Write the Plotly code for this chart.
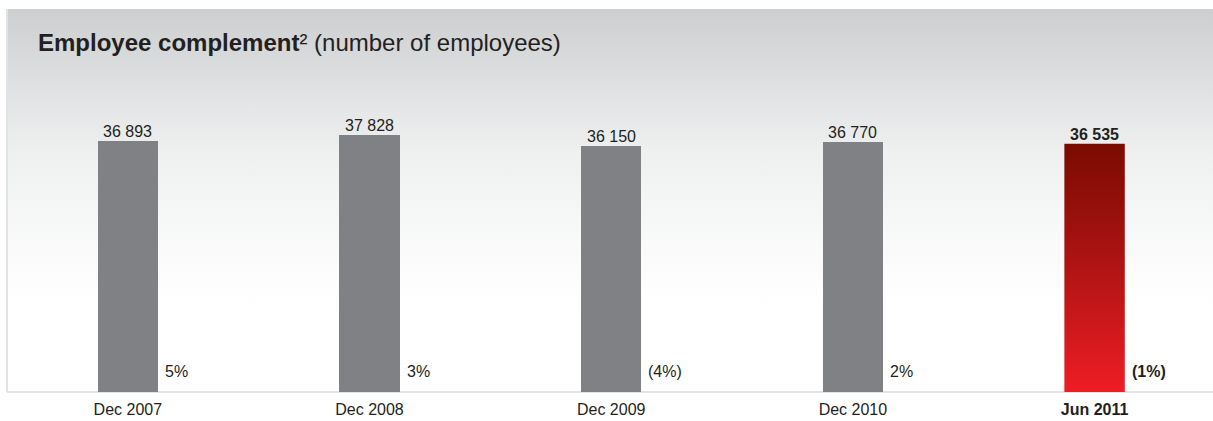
import base64
import plotly.graph_objects as go

# Employee complement by reporting period
categories = ["Dec 2007", "Dec 2008", "Dec 2009", "Dec 2010", "Jun 2011"]
employees = [36893, 37828, 36150, 36770, 36535]
change_labels = ["5%", "3%", "(4%)", "2%", "(1%)"]
highlight = 4  # latest period, shown in red and bold

BAR_W = 0.25
Y_MAX = 56373
FONT = "Arial, 'Liberation Sans', Helvetica, sans-serif"
TEXT = "#231f20"
GREY_BAR = "#808184"
EDGE = "#e3e3e4"


def fmt(n):
    return f"{n:,}".replace(",", " ")


def bold(s, on):
    return f"<b>{s}</b>" if on else s


idx = list(range(len(categories)))
fig = go.Figure()

# grey bars for the historical periods
hist = [i for i in idx if i != highlight]
fig.add_trace(go.Bar(
    x=hist, y=[employees[i] for i in hist], width=BAR_W,
    marker=dict(color=GREY_BAR, line=dict(width=0)),
    hoverinfo="skip", showlegend=False,
))

# highlighted bar with a vertical red gradient
hx0, hx1 = highlight - BAR_W / 2, highlight + BAR_W / 2
hv = employees[highlight]
fig.add_trace(go.Scatter(
    x=[hx0, hx1, hx1, hx0, hx0], y=[0, 0, hv, hv, 0],
    mode="lines", line=dict(width=0, color="rgba(0,0,0,0)"),
    fill="toself",
    fillgradient=dict(type="vertical",
                      colorscale=[[0, "#ee1d25"], [0.5, "#b01414"], [1, "#7a0b01"]]),
    hoverinfo="skip", showlegend=False,
))

annotations = []
for i in idx:
    hl = i == highlight
    annotations.append(dict(
        x=i, y=employees[i], xref="x", yref="y", text=bold(fmt(employees[i]), hl),
        showarrow=False, xanchor="center", yanchor="bottom", yshift=-1,
        font=dict(family=FONT, size=16, color=TEXT),
    ))
    annotations.append(dict(
        x=i + BAR_W / 2, y=0, xref="x", yref="y", text=bold(change_labels[i], hl),
        showarrow=False, xanchor="left", yanchor="bottom", xshift=5, yshift=10,
        font=dict(family=FONT, size=16, color=TEXT),
    ))

annotations.append(dict(
    x=0, y=1, xref="paper", yref="paper", xanchor="left", yanchor="top",
    xshift=29, yshift=-18, showarrow=False,
    text="<b>Employee complement</b>² (number of employees)",
    font=dict(family=FONT, size=24, color=TEXT),
))

# panel background: light grey fading to white
svg = (
    '<svg xmlns="http://www.w3.org/2000/svg" width="100" height="100" '
    'viewBox="0 0 100 100" preserveAspectRatio="none">'
    '<defs><linearGradient id="g" x1="0" y1="0" x2="0" y2="1">'
    '<stop offset="0" stop-color="#cdcecf"/>'
    '<stop offset="0.12" stop-color="#d8d9da"/>'
    '<stop offset="0.24" stop-color="#e3e4e5"/>'
    '<stop offset="0.37" stop-color="#eeefef"/>'
    '<stop offset="0.5" stop-color="#f4f5f5"/>'
    '<stop offset="0.63" stop-color="#fafafa"/>'
    '<stop offset="0.78" stop-color="#ffffff"/>'
    '<stop offset="1" stop-color="#ffffff"/>'
    '</linearGradient></defs>'
    '<rect x="0" y="0" width="100" height="100" fill="url(#g)"/></svg>'
)
bg_src = "data:image/svg+xml;base64," + base64.b64encode(svg.encode()).decode()

fig.update_layout(
    width=1213, height=421,
    margin=dict(l=7, r=0, t=9, b=29),
    paper_bgcolor="white", plot_bgcolor="rgba(0,0,0,0)",
    showlegend=False,
    bargap=0,
    annotations=annotations,
    images=[dict(source=bg_src, xref="paper", yref="paper", x=0, y=1,
                 sizex=1, sizey=1, xanchor="left", yanchor="top",
                 sizing="stretch", layer="below")],
    shapes=[
        dict(type="line", xref="paper", yref="paper", x0=0, x1=1, y0=0, y1=0,
             line=dict(color=EDGE, width=2), layer="below"),
        dict(type="line", xref="paper", yref="paper", x0=0, x1=0, y0=0, y1=1,
             line=dict(color=EDGE, width=2), layer="below"),
    ],
    xaxis=dict(
        range=[-0.5, 4.49], tickmode="array", tickvals=idx,
        ticktext=[bold(c, i == highlight) for i, c in enumerate(categories)],
        showgrid=False, zeroline=False, showline=False, ticks="",
        ticklabelstandoff=6,
        tickfont=dict(family=FONT, size=16, color=TEXT),
        fixedrange=True,
    ),
    yaxis=dict(range=[0, Y_MAX], showgrid=False, zeroline=False,
               showline=False, showticklabels=False, ticks="", fixedrange=True),
)

fig.write_html("out.html", config={"displayModeBar": False})
